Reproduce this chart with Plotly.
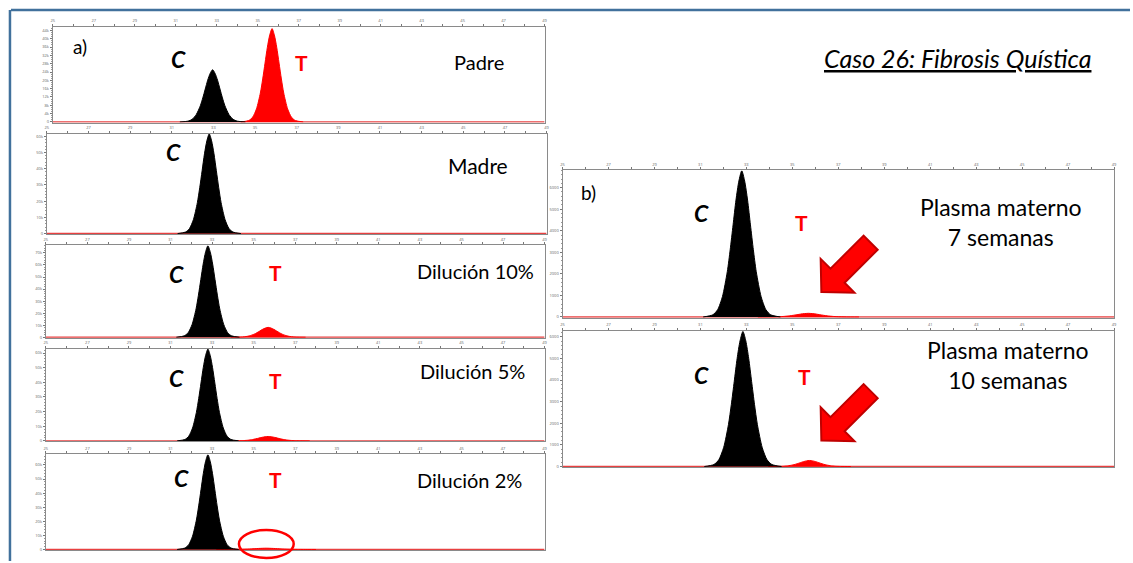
import plotly.graph_objects as go

W, H = 1133, 563

# ---- data -------------------------------------------------------------
PANEL_LABELS = ["Padre", "Madre", "Dilución 10%", "Dilución 5%", "Dilución 2%",
                "Plasma materno<br>7 semanas", "Plasma materno<br>10 semanas"]
X_TICKS = [25, 27, 29, 31, 33, 35, 37, 39, 41, 43, 45, 47, 49]
Y_MAX = [45700, 61700, 76500, 62900, 67500, 6800, 6280]
Y_DTICK = [4000, 10000, 10000, 10000, 10000, 1000, 1000]

# allele C (black) and allele T (red) peaks
C_POS = [32.8, 32.8, 32.8, 32.8, 32.8, 32.8, 32.85]
C_HEIGHT = [25100, 61500, 76000, 62700, 67300, 6780, 6250]
C_WIDTH = [0.40, 0.38, 0.38, 0.37, 0.37, 0.42, 0.42]
T_POS = [35.7, 35.7, 35.7, 35.7, 35.6, 35.7, 35.75]
T_HEIGHT = [44900, 0, 8200, 3000, 900, 170, 280]
T_WIDTH = [0.38, 0.4, 0.45, 0.5, 0.6, 0.55, 0.45]

# sampled peak outline (offset in widths, relative height)
PROFILE_U = [-4.0, -3.0, -2.5, -2.0, -1.5, -1.2, -0.9, -0.6, -0.3, 0.0,
             0.3, 0.6, 0.9, 1.2, 1.5, 2.0, 2.5, 3.0, 4.0]
PROFILE_LEVEL = [0.0, 0.015, 0.05, 0.14, 0.31, 0.46, 0.63, 0.80, 0.93, 1.0,
                 0.93, 0.80, 0.63, 0.46, 0.31, 0.14, 0.05, 0.015, 0.0]

# panel boxes in pixels: left, right, top, bottom
BOXES = [(51, 545, 27, 123), (45, 547, 134, 235), (44, 545, 246, 339),
         (44, 545, 350, 443), (44, 545, 456, 552),
         (563, 1117, 171, 319), (563, 1117, 332, 469)]


def px(x):
    return x / W


def py(y):
    return 1 - y / H


fig = go.Figure()
layout = dict(width=W, height=H, margin=dict(l=0, r=0, t=0, b=0),
              paper_bgcolor="white", plot_bgcolor="white", showlegend=False)

for i, (l, r, t, b) in enumerate(BOXES):
    n = "" if i == 0 else str(i + 1)
    xa, ya = "x" + n, "y" + n
    layout["xaxis" + n] = dict(
        domain=[px(l), px(r)], anchor=ya, range=[25, 49], side="top",
        tickvals=X_TICKS, ticks="outside", ticklen=2, tickcolor="#777",
        tickfont=dict(size=4, color="#666"), showline=True, linecolor="#8a8a8a",
        linewidth=1, mirror=True, showgrid=False, zeroline=False,
        minor=dict(ticks="outside", dtick=1, ticklen=2, tickcolor="#777"))
    layout["yaxis" + n] = dict(
        domain=[py(b), py(t)], anchor=xa, range=[-Y_MAX[i] * 0.006, Y_MAX[i]],
        dtick=Y_DTICK[i], ticks="outside", ticklen=2, tickcolor="#777",
        tickfont=dict(size=4, color="#666"), showline=True, linecolor="#8a8a8a",
        linewidth=1, mirror=True, showgrid=False, zeroline=False,
        minor=dict(ticks="outside", ticklen=1, tickcolor="#999"))

    # red baseline across the run
    fig.add_trace(go.Scatter(x=[25, 49], y=[0, 0], mode="lines", xaxis=xa, yaxis=ya,
                             line=dict(color="#e84040", width=1.5), hoverinfo="skip"))

    # T peak
    if T_HEIGHT[i] > 0:
        fig.add_trace(go.Scatter(
            x=[T_POS[i] + u * T_WIDTH[i] for u in PROFILE_U],
            y=[T_HEIGHT[i] * v for v in PROFILE_LEVEL],
            mode="lines", fill="tozeroy", fillcolor="#ff0000", xaxis=xa, yaxis=ya,
            line=dict(color="#ff0000", width=1, shape="spline", smoothing=0.7),
            hoverinfo="skip"))

    # C peak
    fig.add_trace(go.Scatter(
        x=[C_POS[i] + u * C_WIDTH[i] for u in PROFILE_U],
        y=[C_HEIGHT[i] * v for v in PROFILE_LEVEL],
        mode="lines", fill="tozeroy", fillcolor="black", xaxis=xa, yaxis=ya,
        line=dict(color="black", width=1, shape="spline", smoothing=0.7),
        hoverinfo="skip"))

layout["yaxis"]["range"] = [-300, Y_MAX[0]]
fig.update_layout(**layout)

FONT = "Lato"
ann = []


def text(x, y, s, size=18, color="black", **kw):
    ann.append(dict(x=px(x), y=py(y), xref="paper", yref="paper", text=s,
                    showarrow=False, xanchor="center", yanchor="middle",
                    font=dict(family=FONT, size=size, color=color), **kw))


# panel names
LABEL_POS = [(479, 62), (478, 166), (476, 272), (473, 372), (470, 482),
             (1003, 223), (1010, 366)]
LABEL_SIZE = [20, 21, 20, 20, 20, 23, 23]
for (x, y), s, fs in zip(LABEL_POS, PANEL_LABELS, LABEL_SIZE):
    text(x, y, s, size=fs)

# allele letters
C_LABEL_POS = [(177, 59), (172, 153), (175, 275), (175, 379), (180, 480),
               (703, 214), (703, 376)]
T_LABEL_POS = [(301, 63), (275, 273), (275, 382), (275, 481), (803, 223), (806, 378)]
for x, y in C_LABEL_POS:
    text(x, y, "<b><i>C</i></b>", size=23)
for x, y in T_LABEL_POS:
    text(x, y, "<b>T</b>", size=21, color="#ff0000")

text(78, 47, "a)", size=19)
text(589, 193, "b)", size=19)
text(960, 58, "<i><span style='text-decoration:underline'>Caso 26: Fibrosis Quística</span></i>",
     size=25)

fig.update_layout(annotations=ann)


def block_arrow(tip, length=70, head_len=23, head_half=24, shaft_half=10):
    """Closed SVG path of a thick arrow pointing down-left to `tip` (pixels)."""
    s = 0.70710678
    dx, dy = -s, s          # pointing direction
    nx, ny = s, s           # perpendicular
    tx, ty = tip
    bx, by = tx - head_len * dx, ty - head_len * dy
    ex, ey = tx - length * dx, ty - length * dy
    pts = [(tx, ty),
           (bx + head_half * nx, by + head_half * ny),
           (bx + shaft_half * nx, by + shaft_half * ny),
           (ex + shaft_half * nx, ey + shaft_half * ny),
           (ex - shaft_half * nx, ey - shaft_half * ny),
           (bx - shaft_half * nx, by - shaft_half * ny),
           (bx - head_half * nx, by - head_half * ny)]
    path = "M " + " L ".join(f"{px(x):.5f},{py(y):.5f}" for x, y in pts) + " Z"
    return dict(type="path", xref="paper", yref="paper", path=path,
                fillcolor="#ff0000", line=dict(color="#c00000", width=2))


shapes = [
    # slide frame
    dict(type="line", xref="paper", yref="paper", x0=px(9), x1=1, y0=py(10), y1=py(10),
         line=dict(color="#41719c", width=2.5)),
    dict(type="line", xref="paper", yref="paper", x0=px(8), x1=px(8), y0=0, y1=py(10),
         line=dict(color="#41719c", width=2.5)),
    # circled residual T signal
    dict(type="circle", xref="paper", yref="paper", x0=px(238), x1=px(293),
         y0=py(560), y1=py(532), line=dict(color="#ff0000", width=2.5)),
    # arrows pointing at the small T signal
    block_arrow((823, 293)),
    block_arrow((823, 442)),
]
fig.update_layout(shapes=shapes)

fig.write_html("out.html")
